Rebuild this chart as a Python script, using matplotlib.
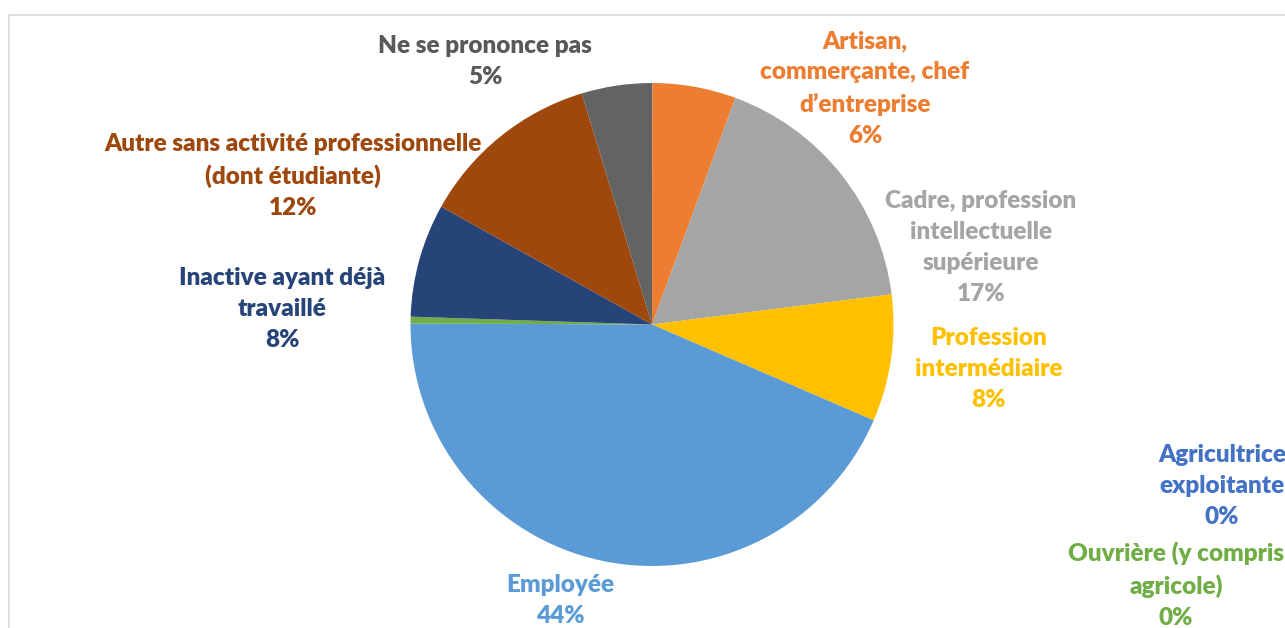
import matplotlib.pyplot as plt
from matplotlib.patches import Rectangle

categories = ['Agricultrice\nexploitante', 'Artisan,\ncommerçante, chef\nd\u2019entreprise',
              'Cadre, profession\nintellectuelle\nsupérieure', 'Profession\nintermédiaire',
              'Employée', 'Ouvrière (y compris\nagricole)', 'Inactive ayant déjà\ntravaillé',
              'Autre sans activité professionnelle\n(dont étudiante)', 'Ne se prononce pas']
values = [0.02, 5.6, 17.4, 8.5, 43.6, 0.45, 7.6, 12.2, 4.7]
pct_labels = ['0%', '6%', '17%', '8%', '44%', '0%', '8%', '12%', '5%']
colors = ['#4472C4', '#ED7D31', '#A5A5A5', '#FFC000', '#5B9BD5',
          '#70AD47', '#264478', '#9E480E', '#636363']
label_colors = ['#4472C4', '#ED7D31', '#A5A5A5', '#FFC000', '#5B9BD5',
                '#70AD47', '#264478', '#9E480E', '#595959']
# label centre x and first-line top y, in pixels
label_pos = [(1222, 444), (865, 30), (981, 190), (989, 327), (560, 574),
             (1176, 541), (282, 267), (293, 133), (485, 35)]

W, H = 1285, 628
fig = plt.figure(figsize=(W / 100, H / 100), dpi=100)

# light frame
fig.patches.append(Rectangle((9 / W, -0.1), 1.2, (H - 15) / H + 0.1, transform=fig.transFigure,
                             facecolor='none', edgecolor='#D9D9D9', linewidth=1.2))

cx, cy, r = 652, 324.5, 241.5
ax = fig.add_axes([(cx - r) / W, (H - cy - r) / H, 2 * r / W, 2 * r / H])
ax.pie(values, colors=colors, startangle=90, counterclock=False, radius=1,
       wedgeprops=dict(linewidth=0))
ax.set_xlim(-1, 1)
ax.set_ylim(-1, 1)
ax.set_aspect('auto')
ax.axis('off')

for cat, pct, col, (x, y) in zip(categories, pct_labels, label_colors, label_pos):
    fig.text(x / W, 1 - y / H, cat + '\n' + pct, ha='center', va='top', color=col,
             fontsize=17.5, fontweight='heavy', family='Lato', linespacing=1.5)

fig.savefig('out.png', dpi=100)
